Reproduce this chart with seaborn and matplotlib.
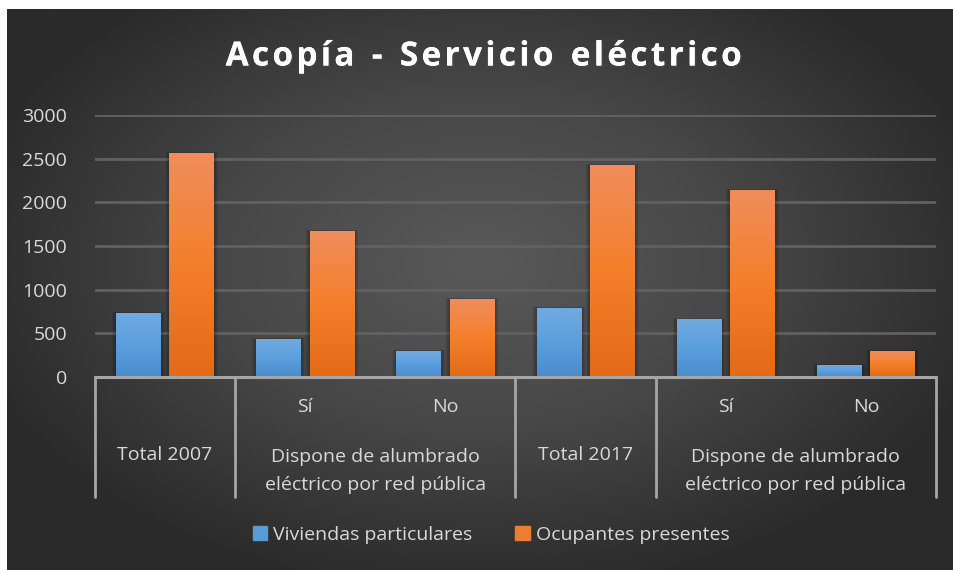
import numpy as np
import pandas as pd
import seaborn as sns
import matplotlib.pyplot as plt
import matplotlib.patheffects as pe
from matplotlib.patches import Rectangle
from matplotlib.colors import LinearSegmentedColormap
from matplotlib.transforms import blended_transform_factory

sns.set_style("white")
plt.rcParams['font.family'] = ['Open Sans', 'DejaVu Sans']

# datos
categorias = ["Total 2007", "Sí 2007", "No 2007", "Total 2017", "Sí 2017", "No 2017"]
viviendas = [732, 435, 297, 789, 660, 136]
ocupantes = [2563, 1670, 892, 2425, 2140, 297]
series = ["Viviendas particulares", "Ocupantes presentes"]
sub_etiquetas = ["", "Sí", "No", "", "Sí", "No"]
grupos = ["Total 2007", "Dispone de alumbrado\neléctrico por red pública",
          "Total 2017", "Dispone de alumbrado\neléctrico por red pública"]
grupo_inicio = [0, 1, 3, 4]
grupo_fin = [0, 2, 3, 5]
yticks = [0, 500, 1000, 1500, 2000, 2500, 3000]
titulo = "Acopía - Servicio eléctrico"

df = pd.DataFrame({
    "categoria": categorias * 2,
    "valor": viviendas + ocupantes,
    "serie": [series[0]] * len(categorias) + [series[1]] * len(categorias),
})

azul = "#5b9bd5"
naranja = "#ed7d31"
texto = "#d9d9d9"
linea = "#a6a6a6"

W, H = 954, 570
fig = plt.figure(figsize=(W / 100, H / 100), dpi=100)
fig.patch.set_facecolor("white")

# fondo con degradado radial
bg = fig.add_axes([7 / W, 0, 1 - 7 / W, 1 - 9 / H])
bg.set_axis_off()
yy, xx = np.mgrid[0:1:300j, 0:1:500j]
r = np.sqrt(((xx - 0.5) / 0.75) ** 2 + ((yy - 0.45) / 0.8) ** 2)
r = np.clip(r / 0.75, 0, 1)
bg_cmap = LinearSegmentedColormap.from_list("bg", ["#595959", "#474747", "#2a2a2a"])
bg.imshow(r, cmap=bg_cmap, aspect="auto", extent=[0, 1, 0, 1], vmin=0, vmax=1)

# area del grafico
ax = fig.add_axes([95 / W, (H - 377) / H, 841 / W, 262 / H])
ax.patch.set_alpha(0)
sns.barplot(data=df, x="categoria", y="valor", hue="serie", order=categorias,
            hue_order=series, palette=[azul, naranja], width=0.76, gap=0.16,
            legend=False, ax=ax, zorder=3)

ax.set_xlim(-0.5, len(categorias) - 0.5)
ax.set_ylim(0, 3000)
ax.set_yticks(yticks)
ax.set_yticklabels([str(v) for v in yticks], fontsize=14, color=texto)
ax.tick_params(axis="y", length=0, pad=20)
ax.set_xticks([])
ax.set_xlabel("")
ax.set_ylabel("")
for s in ax.spines.values():
    s.set_visible(False)
for v in yticks[1:]:
    ax.axhline(v, color="#616161", lw=2, zorder=1)
ax.axhline(0, color=linea, lw=2.2, zorder=5, clip_on=False)

# barras con degradado y sombra suave
grad = np.linspace(0, 1, 100).reshape(-1, 1)
cmaps = {
    azul: LinearSegmentedColormap.from_list("a", ["#4a8ccc", "#5b9fdf", "#72a9de"]),
    naranja: LinearSegmentedColormap.from_list("n", ["#e36a16", "#f47f2a", "#f08d5c"]),
}
bars = list(ax.patches)
for i, p in enumerate(bars):
    x0, w, h = p.get_x(), p.get_width(), p.get_height()
    cm = cmaps[azul] if i < len(categorias) else cmaps[naranja]
    for k in np.linspace(0.015, 0.06, 8):
        ax.add_patch(Rectangle((x0 - k * 0.5, 0), w + k, h + k * 200, color="black",
                               alpha=0.03, lw=0, zorder=2))
    im = ax.imshow(grad, cmap=cm, aspect="auto", extent=[x0, x0 + w, 0, h],
                   origin="lower", zorder=3)
    im.set_clip_path(p)
    p.set_facecolor("none")
    p.set_edgecolor("none")
ax.set_xlim(-0.5, len(categorias) - 0.5)
ax.set_ylim(0, 3000)
ax.set_aspect("auto")

# eje de categorias de dos niveles
tr = blended_transform_factory(ax.transData, ax.transAxes)
def ay(px):
    return -(px - 377) / 262

bordes = [-0.5] + [f + 0.5 for f in grupo_fin]
for b in bordes:
    ax.plot([b, b], [0, ay(497)], color=linea, lw=2, transform=tr, clip_on=False, zorder=5)
for i, t in enumerate(sub_etiquetas):
    if t:
        ax.text(i, ay(407), t, transform=tr, ha="center", va="center",
                fontsize=14, color=texto)
for t, a, b in zip(grupos, grupo_inicio, grupo_fin):
    yc = ay(471) if "\n" in t else ay(455)
    ax.text((a + b) / 2, yc, t, transform=tr, ha="center", va="center",
            fontsize=14, color=texto, linespacing=1.75)

# titulo con espaciado entre letras
espaciado = "  ".join("\u200a".join(p) for p in titulo.split(" "))
fig.text(484 / W, 1 - 57 / H, espaciado, ha="center", va="center", fontsize=24,
         fontweight="bold", color="white",
         path_effects=[pe.withSimplePatchShadow(offset=(1.2, -1.2), alpha=0.45),
                       pe.Normal()])

# leyenda
handles = [Rectangle((0, 0), 1, 1, color=azul), Rectangle((0, 0), 1, 1, color=naranja)]
leg = fig.legend(handles, series, loc="center", bbox_to_anchor=(491 / W, 1 - 535 / H),
                 ncol=2, frameon=False, fontsize=14, handlelength=0.75, handleheight=0.75,
                 handletextpad=0.3, columnspacing=2.2)
for t in leg.get_texts():
    t.set_color(texto)

fig.savefig("out.png", dpi=100)
